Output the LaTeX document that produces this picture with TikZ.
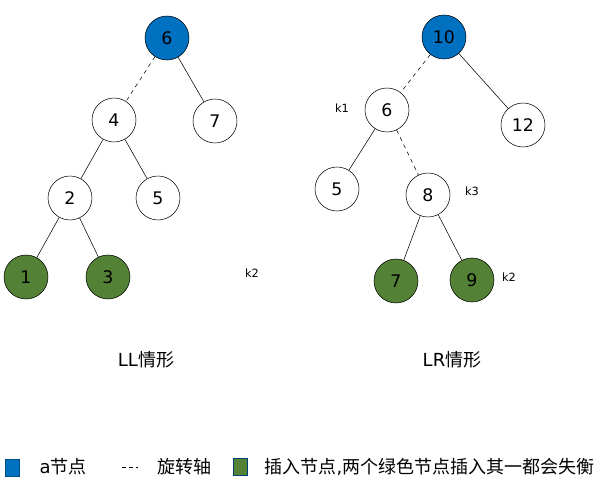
\documentclass[tikz,border=0pt]{standalone}
\usepackage{fontspec}
\setmainfont{DejaVu Sans}
\newfontfamily\cjk{Noto Sans CJK SC}
\usetikzlibrary{positioning}
\definecolor{rootblue}{HTML}{0070C0}
\definecolor{insgreen}{HTML}{538135}

\begin{document}
\begin{tikzpicture}[x=0.75pt, y=-0.75pt,
  nd/.style={draw, circle, minimum size=33pt, inner sep=0pt, font=\fontsize{13}{15}\selectfont, fill=white},
  rootnd/.style={nd, fill=rootblue},
  insnd/.style={nd, fill=insgreen},
  link/.style={thin},
  axis/.style={thin, dashed},
  klab/.style={font=\fontsize{8.5}{10}\selectfont},
  captext/.style={font=\fontsize{13.5}{16}\selectfont},
  swatch/.style={draw=rootblue!70!black, minimum width=10.5pt, minimum height=12.75pt, inner sep=0pt}
]
\useasboundingbox (0,0) rectangle (601,488);
% LL
\node[rootnd] (la) at (167,38) {6};
\node[nd] (lb) at (114,120) {4};
\node[nd] (lc) at (215,121) {7};
\node[nd] (ld) at (70,198) {2};
\node[nd] (le) at (158,198) {5};
\node[insnd] (lf) at (26,277) {1};
\node[insnd] (lg) at (108,277) {3};
\node[klab] (lk) at (252,273) {k2};
\draw[axis] (la) -- (lb);
\draw[link] (la) -- (lc);
\draw[link] (lb) -- (ld);
\draw[link] (lb) -- (le);
\draw[link] (ld) -- (lf);
\draw[link] (ld) -- (lg);
% LR
\node[rootnd] (ra) at (444,37) {10};
\node[nd] (rb) at (387,110) {6};
\node[nd] (rc) at (523,125) {12};
\node[nd] (rd) at (337,189) {5};
\node[nd] (re) at (428,195) {8};
\node[insnd] (rf) at (396,281) {7};
\node[insnd] (rg) at (472,280) {9};
\node[klab] (rk1) at (342,108) {k1};
\node[klab] (rk3) at (472,191) {k3};
\node[klab] (rk2) at (509,277) {k2};
\draw[axis] (ra) -- (rb);
\draw[link] (ra) -- (rc);
\draw[link] (rb) -- (rd);
\draw[axis] (rb) -- (re);
\draw[link] (re) -- (rf);
\draw[link] (re) -- (rg);
% captions
\node[captext] (llcap) at (146,360) {LL{\cjk 情形}};
\node[captext] (lrcap) at (452,360) {LR{\cjk 情形}};
% legend
\node[swatch, fill=rootblue] (sw1) at (12,468) {};
\node[captext, anchor=west] (lg1) at (35,467) {a{\cjk 节点}};
\coordinate (d1) at (122,467);
\coordinate (d2) at (138,467);
\draw[thin, dash pattern=on 3pt off 2.2pt] (d1) -- (d2);
\node[captext, anchor=west] (lg2) at (153,467) {\cjk 旋转轴};
\node[swatch, fill=insgreen, draw=rootblue!60!black] (sw2) at (240,467) {};
\node[captext, anchor=west] (lg3) at (260,467) {{\cjk 插入节点}{,}{\cjk 两个绿色节点插入其一都会失衡}};
\end{tikzpicture}
\end{document}
